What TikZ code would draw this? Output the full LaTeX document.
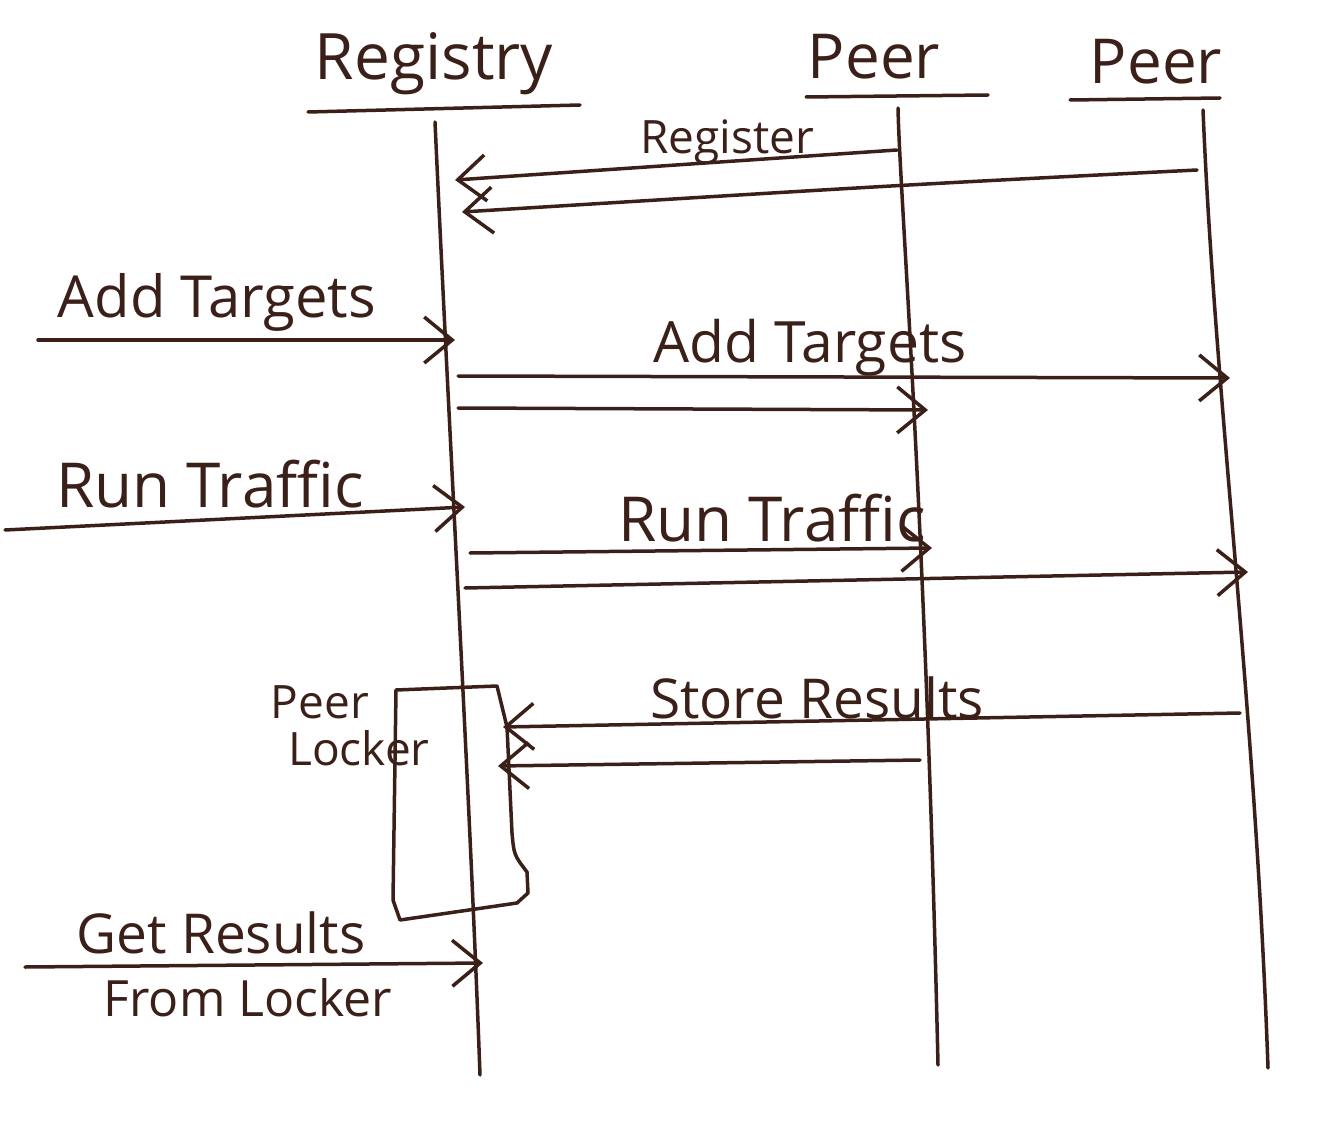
\documentclass[tikz,border=0pt]{standalone}
\usepackage{fontspec}
\setmainfont{Open Sans}
\usetikzlibrary{arrows.meta}
\definecolor{ink}{HTML}{3B2019}
\newcommand{\fsz}[1]{\fontsize{#1}{#1}\selectfont}
\tikzset{
  ln/.style={draw=ink,line width=3.5pt,line cap=round,line join=round},
  msg/.style={ln,-{Straight Barb[length=28pt,width=46pt]}},
  lbl/.style={text=ink,inner sep=0pt,font=\fsz{#1}},
}
\begin{document}
\begin{tikzpicture}[x=1pt,y=-1pt]
\useasboundingbox (0,0) rectangle (1330,1131);
% headers
\node[lbl=64] (hreg) at (434,64) {Registry};
\node[lbl=62] (hp1) at (874,57) {Peer};
\node[lbl=62] (hp2) at (1156,62) {Peer};
\coordinate (ur1) at (308,112); \coordinate (ur2) at (580,105);
\coordinate (up1) at (806,97); \coordinate (up2) at (988,95);
\coordinate (uq1) at (1070,100); \coordinate (uq2) at (1220,98);
\draw[ln] (ur1) -- (ur2);
\draw[ln] (up1) -- (up2);
\draw[ln] (uq1) -- (uq2);
% lifelines
\coordinate (regT) at (435,122); \coordinate (regB) at (480,1075);
\coordinate (p1T) at (898,108); \coordinate (p1B) at (938,1065);
\coordinate (p2T) at (1203,110); \coordinate (p2B) at (1268,1068);
\draw[ln] (regT) .. controls (450,450) and (470,800) .. (regB);
\draw[ln] (p1T) .. controls (900,200) and (925,500) .. (p1B);
\draw[ln] (p2T) .. controls (1215,400) and (1255,700) .. (p2B);
% Register
\coordinate (r1s) at (897,150); \coordinate (r1e) at (455,180);
\coordinate (r2s) at (1197,170); \coordinate (r2e) at (462,212);
\draw[msg] (r1s) -- (r1e);
\draw[msg] (r2s) .. controls (900,185) .. (r2e);
\node[lbl=46] (lreg) at (727,142) {Register};
% Add Targets
\coordinate (a0s) at (38,340); \coordinate (a0e) at (455,340);
\draw[msg] (a0s) -- (a0e);
\node[lbl=58] (la0) at (217,302) {Add Targets};
\coordinate (a1s) at (458,376); \coordinate (a1e) at (1230,378);
\coordinate (a2s) at (458,408); \coordinate (a2e) at (928,410);
\draw[msg] (a1s) -- (a1e);
\draw[msg] (a2s) -- (a2e);
\node[lbl=57] (la1) at (810,348) {Add Targets};
% Run Traffic
\coordinate (t0s) at (5,530); \coordinate (t0e) at (465,507);
\draw[msg] (t0s) -- (t0e);
\node[lbl=62] (lt0) at (210,484) {Run Traffic};
\coordinate (t1s) at (470,553); \coordinate (t1e) at (932,548);
\coordinate (t2s) at (465,588); \coordinate (t2e) at (1248,572);
\draw[msg] (t1s) -- (t1e);
\draw[msg] (t2s) -- (t2e);
\node[lbl=62] (lt1) at (772,518) {Run Traffic};
% Peer Locker box
\coordinate (bx1) at (396,690); \coordinate (bx2) at (497,686);
\coordinate (bx3) at (528,893); \coordinate (bx4) at (400,920);
\draw[ln] (bx4) -- (393,900) -- (bx1) -- (bx2) -- (507,727) -- (512,833)
  .. controls (514,855) .. (527,872) -- (bx3) -- (517,903) -- (bx4);
\node[lbl=46] (llock1) at (320,702) {Peer};
\node[lbl=46] (llock2) at (359,748) {Locker};
% Store Results
\coordinate (s1s) at (1240,713); \coordinate (s1e) at (503,727);
\coordinate (s2s) at (920,760); \coordinate (s2e) at (498,766);
\draw[msg] (s1s) -- (s1e);
\draw[msg] (s2s) -- (s2e);
\node[lbl=55] (ls1) at (817,698) {Store Results};
% Get Results
\coordinate (g0s) at (25,967); \coordinate (g0e) at (483,963);
\draw[msg] (g0s) -- (g0e);
\node[lbl=55] (lg0) at (221,933) {Get Results};
\node[lbl=50] (lg1) at (248,998) {From Locker};
\end{tikzpicture}
\end{document}
